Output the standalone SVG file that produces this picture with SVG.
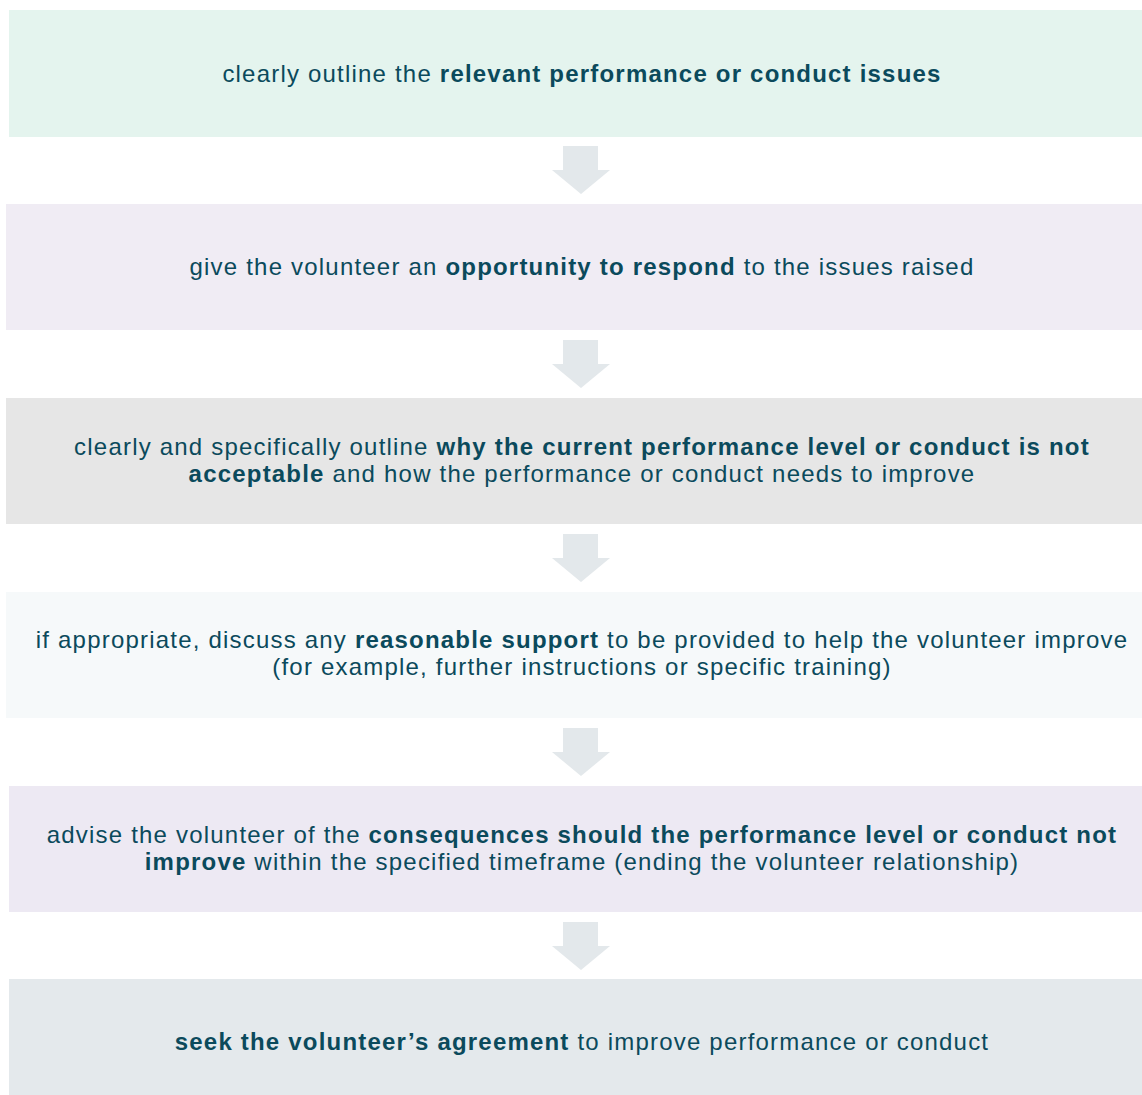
<svg xmlns="http://www.w3.org/2000/svg" width="1142" height="1095" viewBox="0 0 1142 1095">
<defs>
<style>
.t{font-family:"Liberation Sans",Arial,sans-serif;font-size:24px;letter-spacing:1.2px;fill:#0b4a5c;text-anchor:middle}
.b{font-weight:bold}
.arr{fill:#e3e8eb}
</style>
<polygon id="arrow" class="arr" points="563,0 598,0 598,24 610,24 581,48 552,24 563,24"/>
</defs>
<rect width="1142" height="1095" fill="#ffffff"/>
<g id="connectors">
<use href="#arrow" y="146"/>
<use href="#arrow" y="340"/>
<use href="#arrow" y="534"/>
<use href="#arrow" y="728"/>
<use href="#arrow" y="922"/>
</g>
<g id="step1">
<rect x="9" y="10" width="1140" height="127" fill="#e4f4ee"/>
<text class="t" x="582" y="82">clearly outline the <tspan class="b">relevant performance or conduct issues</tspan></text>
</g>
<g id="step2">
<rect x="6" y="204" width="1140" height="126" fill="#f0ecf4"/>
<text class="t" x="582" y="275">give the volunteer an <tspan class="b">opportunity to respond</tspan> to the issues raised</text>
</g>
<g id="step3">
<rect x="6" y="398" width="1140" height="126" fill="#e6e6e6"/>
<text class="t" x="582" y="455">clearly and specifically outline <tspan class="b">why the current performance level or conduct is not</tspan></text>
<text class="t" x="582" y="482"><tspan class="b">acceptable</tspan> and how the performance or conduct needs to improve</text>
</g>
<g id="step4">
<rect x="6" y="592" width="1140" height="126" fill="#f6f9fa"/>
<text class="t" x="582" y="648">if appropriate, discuss any <tspan class="b">reasonable support</tspan> to be provided to help the volunteer improve</text>
<text class="t" x="582" y="675">(for example, further instructions or specific training)</text>
</g>
<g id="step5">
<rect x="9" y="786" width="1140" height="126" fill="#ede9f3"/>
<text class="t" x="582" y="843">advise the volunteer of the <tspan class="b">consequences should the performance level or conduct not</tspan></text>
<text class="t" x="582" y="870"><tspan class="b">improve</tspan> within the specified timeframe (ending the volunteer relationship)</text>
</g>
<g id="step6">
<rect x="9" y="979" width="1140" height="116" fill="#e4e9ec"/>
<text class="t" x="582" y="1050"><tspan class="b">seek the volunteer’s agreement</tspan> to improve performance or conduct</text>
</g>
</svg>
